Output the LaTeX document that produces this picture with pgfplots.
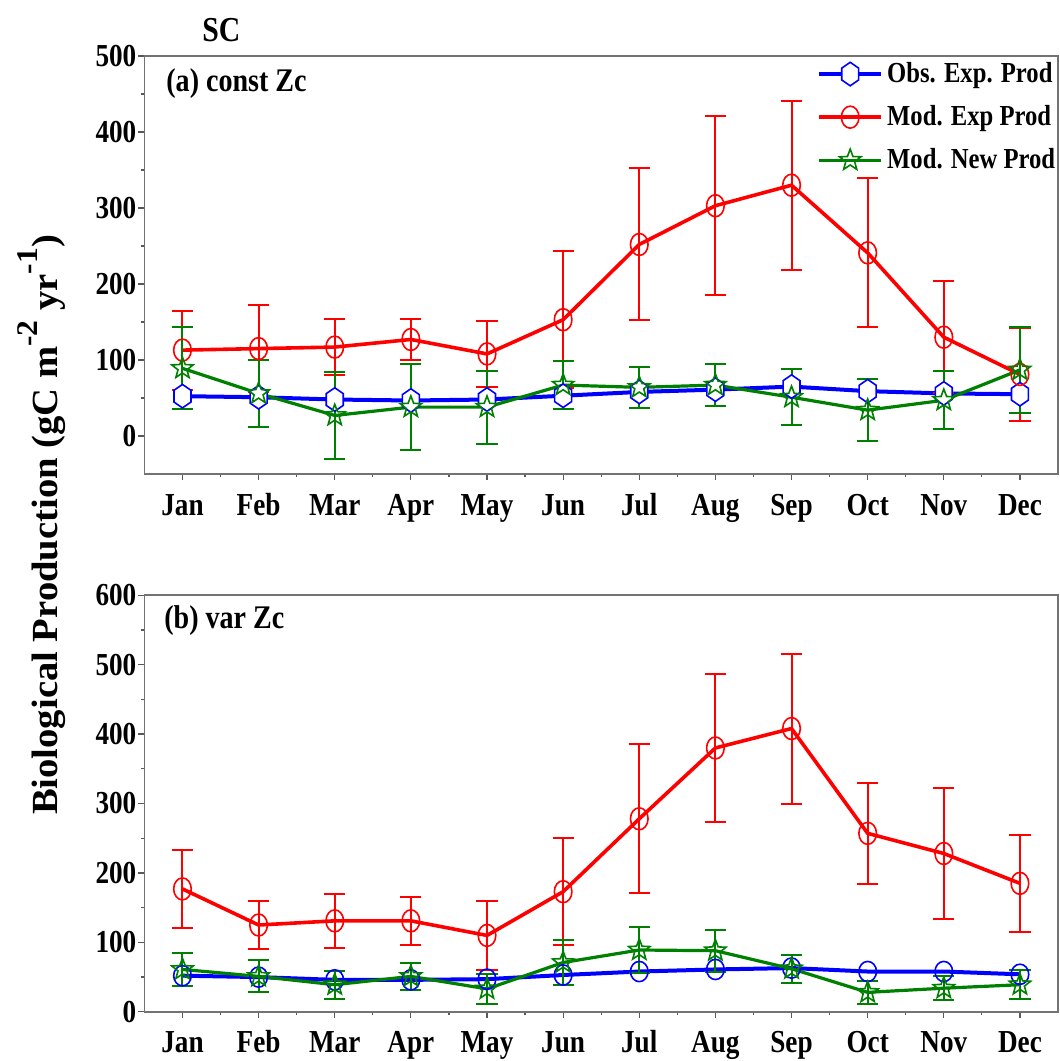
\documentclass[border=0pt]{standalone}
\usepackage{pgfplots}
\pgfplotsset{compat=1.18}
\usepackage{pgfplotstable}
\usepackage{fontspec}
\setmainfont{Liberation Serif}[FakeStretch=0.85]
\newfontfamily\labelfont{Liberation Serif}[FakeStretch=1.05]

\definecolor{obsblue}{RGB}{0,0,255}
\definecolor{modred}{RGB}{255,0,0}
\definecolor{newgreen}{RGB}{0,128,0}

% upright hexagon (vertex at top and bottom)
\pgfdeclareplotmark{hexv}{%
  \pgfpathmoveto{\pgfpointpolar{90}{\pgfplotmarksize}}%
  \pgfpathlineto{\pgfpointpolar{150}{\pgfplotmarksize}}%
  \pgfpathlineto{\pgfpointpolar{210}{\pgfplotmarksize}}%
  \pgfpathlineto{\pgfpointpolar{270}{\pgfplotmarksize}}%
  \pgfpathlineto{\pgfpointpolar{330}{\pgfplotmarksize}}%
  \pgfpathlineto{\pgfpointpolar{30}{\pgfplotmarksize}}%
  \pgfpathclose
  \pgfusepathqfillstroke}

% open five-pointed star
\pgfdeclareplotmark{star5}{%
  \pgfpathmoveto{\pgfpointpolar{90}{\pgfplotmarksize}}%
  \pgfpathlineto{\pgfpointpolar{126}{0.42\pgfplotmarksize}}%
  \pgfpathlineto{\pgfpointpolar{162}{\pgfplotmarksize}}%
  \pgfpathlineto{\pgfpointpolar{198}{0.42\pgfplotmarksize}}%
  \pgfpathlineto{\pgfpointpolar{234}{\pgfplotmarksize}}%
  \pgfpathlineto{\pgfpointpolar{270}{0.42\pgfplotmarksize}}%
  \pgfpathlineto{\pgfpointpolar{306}{\pgfplotmarksize}}%
  \pgfpathlineto{\pgfpointpolar{342}{0.42\pgfplotmarksize}}%
  \pgfpathlineto{\pgfpointpolar{18}{\pgfplotmarksize}}%
  \pgfpathlineto{\pgfpointpolar{54}{0.42\pgfplotmarksize}}%
  \pgfpathclose
  \pgfusepathqstroke}

% monthly means and spreads, constant Zc
\pgfplotstableread{
x  obs   mod  modE  new  newE
1  52.4  113  52    89   54
2  51    115  57    56   44
3  48    117  37    27   57
4  46.7  127  27    38   57
5  48    108  43    38   48
6  53    153  90    67   32
7  58    252  100   64   27
8  61    303  118   67   28
9  65    330  111   51   37
10 59    241  98    34   41
11 56    130  74    47   38
12 55    81   61    87   57
}\constzc

% monthly means and spreads, variable Zc
\pgfplotstableread{
x  obs  mod  modE  new  newE
1  52   177  56    61   24
2  50   125  35    51   23
3  46   131  39    39   20
4  46   131  35    51   20
5  47   110  50    33   22
6  53   173  77    71   33
7  58   278  107   89   33
8  61   380  106   88   30
9  63   408  108   62   20
10 58   257  73    28   17
11 58   228  95    34   17
12 54   185  70    39   21
}\varzc

\pgfplotsset{
  panel/.style={
    scale only axis,
    width=456.8pt,
    xmin=0.5, xmax=12.5,
    xtick={1,...,12},
    xticklabels={Jan,Feb,Mar,Apr,May,Jun,Jul,Aug,Sep,Oct,Nov,Dec},
    minor x tick num=1,
    minor y tick num=1,
    tick pos=left,
    tick align=outside,
    major tick length=3pt,
    minor tick length=1.5pt,
    axis line style={black!55, line width=0.8pt},
    tick style={black!65, line width=0.6pt},
    /pgf/number format/assume math mode=true,
    tick label style={font=\fontsize{16}{16}\selectfont\bfseries},
    xticklabel style={yshift=-3pt, text height=11pt, text depth=3.5pt},
    yticklabel style={xshift=2.5pt},
    clip=false,
  },
  errs/.style={
    error bars/.cd, y dir=both, y explicit,
    error bar style={line width=1pt, solid, color=#1, draw=#1},
    error mark options={rotate=90, mark size=5.3pt, line width=1pt, color=#1, draw=#1},
    /pgfplots/.cd,
  },
  obsline/.style={color=obsblue, line width=2pt},
  modline/.style={color=modred, line width=1.8pt, mark=o, mark size=4.4pt},
  newline/.style={color=newgreen, line width=1.6pt, mark=star5, mark size=5.6pt,
    mark options={solid, line width=0.8pt}},
}

\begin{document}
\begin{tikzpicture}
\useasboundingbox (0pt,0pt) rectangle (530pt,530.5pt);

% (a) constant Zc
\begin{axis}[panel,
  at={(72.2pt,293.5pt)}, anchor=south west,
  height=209pt,
  ymin=-50, ymax=500,
  ytick={0,100,...,500},
  legend style={draw=none, fill=none, at={(0.736,0.995)}, anchor=north west,
    inner sep=0pt, row sep=6pt,
    font=\fontsize{14.5}{14.5}\selectfont\bfseries, cells={anchor=west}},
  legend image code/.code={\draw[mark repeat=2,mark phase=2]
    plot coordinates {(0pt,0pt)(15.5pt,0pt)(31pt,0pt)};},
]
\addplot[obsline, mark=hexv, mark size=4.9pt,
  mark options={solid, line width=0.8pt, fill=white, yscale=1.2}]
  table[x=x, y=obs] {\constzc};
\addlegendentry{Obs. Exp. Prod}
\addplot[modline, errs=modred, mark options={solid, line width=0.8pt, yscale=1.25}]
  table[x=x, y=mod, y error=modE] {\constzc};
\addlegendentry{Mod. Exp Prod}
\addplot[newline, errs=newgreen] table[x=x, y=new, y error=newE] {\constzc};
\addlegendentry{Mod. New Prod}
\end{axis}

% (b) variable Zc
\begin{axis}[panel,
  at={(72.2pt,24.6pt)}, anchor=south west,
  height=208.3pt,
  ymin=0, ymax=600,
  ytick={0,100,...,600},
]
\addplot[obsline, mark=o, mark size=4.4pt,
  mark options={solid, line width=0.8pt, fill=white, yscale=1.15}]
  table[x=x, y=obs] {\varzc};
\addplot[modline, errs=modred, mark options={solid, line width=0.8pt, yscale=1.25, fill=white}]
  table[x=x, y=mod, y error=modE] {\varzc};
\addplot[newline, errs=newgreen] table[x=x, y=new, y error=newE] {\varzc};
\end{axis}

\node[font=\fontsize{17.5}{17.5}\selectfont\bfseries] at (110.7pt,515.3pt) {SC};
\node[anchor=west, inner sep=0pt, font=\fontsize{16.5}{16.5}\selectfont\bfseries]
  at (83pt,488.5pt) {(a) const Zc};
\node[anchor=west, inner sep=0pt, font=\fontsize{16.5}{16.5}\selectfont\bfseries]
  at (82pt,220pt) {(b) var Zc};
\node[rotate=90, font=\labelfont\fontsize{18.4}{18.4}\selectfont\bfseries] at (21pt,268pt)
  {Biological Production (gC m\raisebox{0.55em}{\fontsize{15}{15}\selectfont -2} yr\raisebox{0.55em}{\fontsize{15}{15}\selectfont -1})};
\end{tikzpicture}
\end{document}
